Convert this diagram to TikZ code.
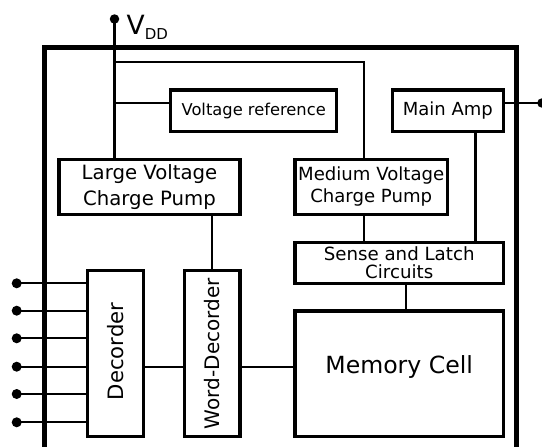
\documentclass[tikz,border=0pt]{standalone}
\usepackage{fontspec}
\setmainfont{DejaVu Sans}
\usetikzlibrary{calc}
\begin{document}
\begin{tikzpicture}[x=1pt,y=-1pt,
  blk/.style={draw, line width=3.3pt, inner sep=0pt, align=center},
  wire/.style={line width=2.3pt},
  dotnode/.style={circle, fill, inner sep=0pt, minimum size=10pt},
  ]
\useasboundingbox (0,0) rectangle (542,447);
\fill[white] (0,0) rectangle (542,447);
% outer frame
\draw[line width=4.8pt] (44.3,470) -- (44.3,47.5) -- (516.7,47.5) -- (516.7,470);
% blocks
\node[blk, minimum width=166pt, minimum height=41.3pt, font=\fontsize{16.3}{19}\selectfont] (vref) at (253.7,110.7) {Voltage reference};
\node[blk, minimum width=111pt, minimum height=41.3pt, font=\fontsize{18}{21}\selectfont] (amp) at (447.8,110.7) {Main Amp};
\node[blk, minimum width=181pt, minimum height=55pt, font=\fontsize{19.7}{25.7}\selectfont] (lvcp) at (149.5,186.8) {Large Voltage\\Charge Pump};
\node[blk, minimum width=152.3pt, minimum height=55pt, font=\fontsize{18.1}{22.3}\selectfont] (mvcp) at (371.2,186.8) {Medium Voltage\\Charge Pump};
\node[blk, minimum width=208.3pt, minimum height=41pt, font=\fontsize{18.2}{18.3}\selectfont] (sense) at (399.2,262.8) {Sense and Latch\\Circuits};
\node[blk, minimum width=208.3pt, minimum height=125.7pt, font=\fontsize{23.6}{28}\selectfont, text height=18pt, text depth=18pt] (mem) at (399.2,373.8) {Memory Cell};
\node[blk, minimum width=56pt, minimum height=166pt, font=\fontsize{21.2}{25}\selectfont, text depth=4.5pt] (dec) at (115.3,353.7) {\rotatebox{90}{Decorder}};
\node[blk, minimum width=55.7pt, minimum height=166pt, font=\fontsize{20}{24}\selectfont] (wdec) at (212.2,353.7) {\rotatebox{90}{Word-Decorder}};
% dots
\node[dotnode, minimum size=9.5pt] (vdd) at (114.5,19) {};
\node[dotnode, minimum size=9.5pt] (out) at (542,103) {};
\foreach \i/\y in {1/283.3,2/310.7,3/338.3,4/366.7,5/394,6/422.3}
  \node[dotnode] (in\i) at (16.7,\y) {};
\node[anchor=base west, inner sep=0pt] (vddlbl) at (126.5,34.3)
  {\fontsize{26.5}{30}\selectfont V\raisebox{-5pt}{\fontsize{15}{18}\selectfont DD}};
% helper coordinates
\coordinate (top1) at (114.5,62);
\coordinate (top2) at (364,62);
\coordinate (vrj) at (114.5,103);
\coordinate (ampx) at (475.7,0);
\coordinate (senx) at (406,0);
\coordinate (bus) at (0,366.7);
% connectors
\draw[wire] (vdd.center) -- (vdd.center |- lvcp.north);
\draw[line width=2.8pt] (top1) -- (top2) -- (top2 |- mvcp.north);
\draw[wire] (vrj) -- (vrj -| vref.west);
\draw[wire] (out.center -| amp.east) -- (out.center);
\draw[line width=2.8pt] (ampx |- amp.south) -- (ampx |- sense.north);
\draw[wire] (top2 |- mvcp.south) -- (top2 |- sense.north);
\draw[wire] (senx |- sense.south) -- (senx |- mem.north);
\draw[wire] (wdec.north |- lvcp.south) -- (wdec.north);
\foreach \i in {1,...,6}
  \draw[wire] (in\i.center) -- (in\i.center -| dec.west);
\draw[wire] (bus -| dec.east) -- (bus -| wdec.west);
\draw[wire] (bus -| wdec.east) -- (bus -| mem.west);
\end{tikzpicture}
\end{document}
